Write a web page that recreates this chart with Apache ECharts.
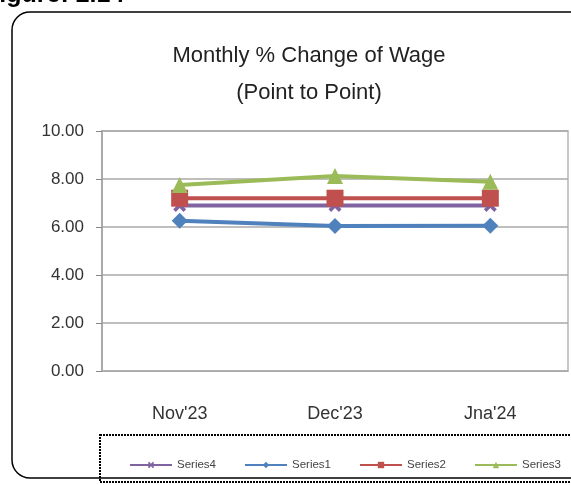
<!DOCTYPE html>
<html>
<head>
<meta charset="utf-8">
<script src="https://cdn.jsdelivr.net/npm/echarts@6/dist/echarts.min.js"></script>
<style>
  html, body { margin: 0; padding: 0; background: #fff; }
  #chart { width: 571px; height: 485px; }
</style>
</head>
<body>
<div id="chart"></div>
<script>
	var months = ["Nov'23", "Dec'23", "Jna'24"];
	var series4 = [6.9, 6.9, 6.9];
	var series1 = [6.26, 6.04, 6.05];
	var series2 = [7.2, 7.2, 7.2];
	var series3 = [7.75, 8.12, 7.89];
	var yTicks = [0, 2, 4, 6, 8, 10];

	var chart = echarts.init(document.getElementById('chart'));

	// X 形状的标记
	var crossPath = 'path://M0,2L2,0L5,3L8,0L10,2L7,5L10,8L8,10L5,7L2,10L0,8L3,5Z';

	function makeSeries(name, data, color, symbol, size) {
		return {
			name: name,
			type: 'line',
			data: data,
			symbol: symbol,
			symbolSize: size,
			lineStyle: { color: color, width: 4 },
			itemStyle: { color: color },
			emphasis: { disabled: true }
		};
	}

	var option = {
		animation: false,
		textStyle: { fontFamily: 'Liberation Sans' },
		title: {
			text: 'Monthly % Change of Wage\n(Point to Point)',
			left: 304,
			textAlign: 'center',
			top: 32,
			textStyle: { fontSize: 22, fontWeight: 'normal', color: '#222', lineHeight: 37 }
		},
		graphic: [
			{
				type: 'text', left: -16, top: -17,
				style: { text: 'Figure: 2.14', font: 'bold 25px "Liberation Sans"', fill: '#000' }
			},
			{
				type: 'rect',
				shape: { x: 12, y: 12, width: 600, height: 466, r: 18 },
				style: { fill: 'none', stroke: '#000', lineWidth: 1.5 }
			},
			{
				type: 'rect',
				shape: { x: 100, y: 435, width: 480, height: 47 },
				style: { fill: 'none', stroke: '#000', lineWidth: 2, lineDash: [2, 1] }
			}
		],
		legend: {
			data: ['Series4', 'Series1', 'Series2', 'Series3'],
			left: 124,
			top: 454,
			width: 460,
			itemGap: 28,
			itemWidth: 42,
			itemHeight: 8,
			textStyle: { fontSize: 11.5, color: '#444' }
		},
		grid: {
			left: 102, right: 3, top: 131, bottom: 114,
			show: true, backgroundColor: '#fff', borderColor: '#c8c8c8', borderWidth: 2
		},
		xAxis: {
			type: 'category',
			data: months,
			boundaryGap: true,
			axisLine: { lineStyle: { color: '#aaa', width: 1 } },
			axisTick: { show: false },
			axisLabel: { fontSize: 18, color: '#333', margin: 34 }
		},
		yAxis: {
			type: 'value',
			min: yTicks[0],
			max: yTicks[yTicks.length - 1],
			interval: 2,
			axisLine: { show: true, lineStyle: { color: '#aaa', width: 2 } },
			axisTick: { show: true, length: 6, lineStyle: { color: '#888' } },
			axisLabel: {
				fontSize: 17, color: '#333', margin: 18,
				formatter: function(v) { return v.toFixed(2); }
			},
			splitLine: { lineStyle: { color: '#a8a8a8', width: 1.5 } }
		},
		series: [
			makeSeries('Series4', series4, '#8064a2', crossPath, 13),
			makeSeries('Series1', series1, '#4f81bd', 'diamond', 16),
			makeSeries('Series2', series2, '#c0504d', 'rect', 17),
			makeSeries('Series3', series3, '#9bbb59', 'triangle', 16)
		]
	};

	chart.setOption(option);
</script>
</body>
</html>
